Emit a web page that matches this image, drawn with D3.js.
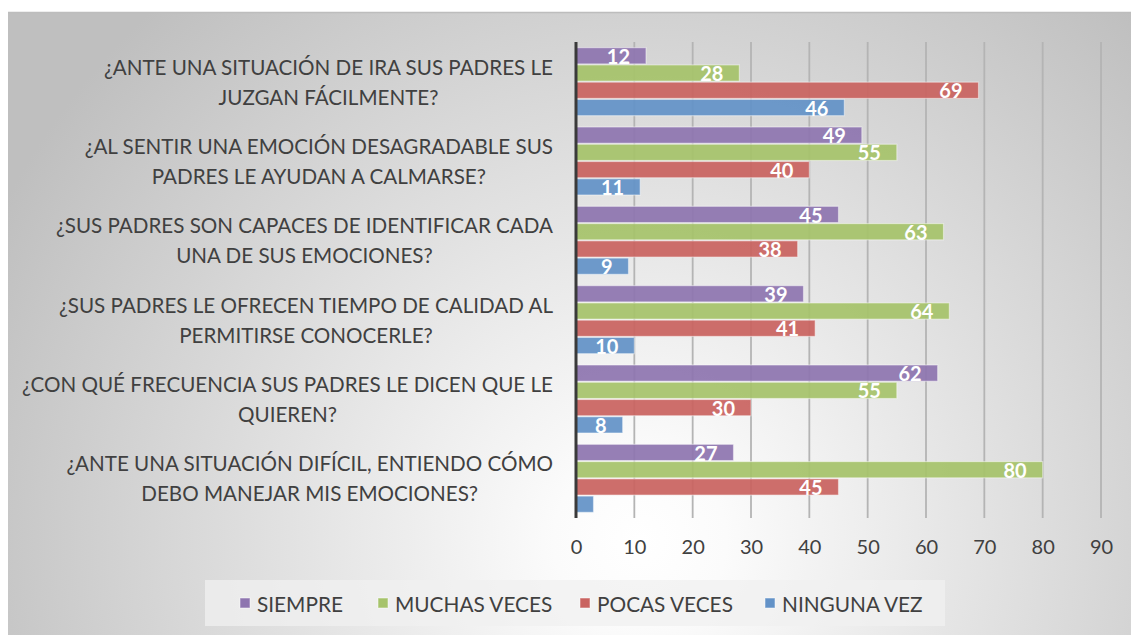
<!DOCTYPE html>
<html><head><meta charset="utf-8">
<script src="https://cdn.jsdelivr.net/npm/d3@7/dist/d3.min.js"></script>
<style>html,body{margin:0;padding:0;background:#fff;}svg{display:block;}</style>
</head><body>
<svg id="chart" width="1131" height="635"></svg>
<script>
const categories = [
  ["¿ANTE UNA SITUACIÓN DE IRA SUS PADRES LE", "JUZGAN FÁCILMENTE?"],
  ["¿AL SENTIR UNA EMOCIÓN DESAGRADABLE SUS", "PADRES LE AYUDAN A CALMARSE?"],
  ["¿SUS PADRES SON CAPACES DE IDENTIFICAR CADA", "UNA DE SUS EMOCIONES?"],
  ["¿SUS PADRES LE OFRECEN TIEMPO DE CALIDAD AL", "PERMITIRSE CONOCERLE?"],
  ["¿CON QUÉ FRECUENCIA SUS PADRES LE DICEN QUE LE", "QUIEREN?"],
  ["¿ANTE UNA SITUACIÓN DIFÍCIL, ENTIENDO CÓMO", "DEBO MANEJAR MIS EMOCIONES?"]
];
const seriesNames = ["SIEMPRE", "MUCHAS VECES", "POCAS VECES", "NINGUNA VEZ"];
const siempre      = [12, 49, 45, 39, 62, 27];
const muchasVeces  = [28, 55, 63, 64, 55, 80];
const pocasVeces   = [69, 40, 38, 41, 30, 45];
const ningunaVez   = [46, 11,  9, 10,  8,  3];
const xTicks = [0, 10, 20, 30, 40, 50, 60, 70, 80, 90];
const colors = ["#8E75AF", "#A6C36B", "#C96360", "#6392C7"];

const seriesValues = [siempre, muchasVeces, pocasVeces, ningunaVez];
const svg = d3.select("#chart");
const defs = svg.append("defs");
const rg = defs.append("radialGradient").attr("id", "bg")
  .attr("gradientUnits", "userSpaceOnUse")
  .attr("cx", 640).attr("cy", 540).attr("r", 720);
rg.append("stop").attr("offset", "0%").attr("stop-color", "#ffffff");
rg.append("stop").attr("offset", "12%").attr("stop-color", "#fbfbfb");
rg.append("stop").attr("offset", "100%").attr("stop-color", "#bfbfbf");

svg.append("rect").attr("x", 8).attr("y", 12).attr("width", 1123).attr("height", 623)
  .attr("fill", "url(#bg)");
svg.append("line").attr("x1", 8).attr("x2", 1131).attr("y1", 12.5).attr("y2", 12.5)
  .attr("stroke", "#bdbdbd").attr("stroke-width", 1.5);

const x = d3.scaleLinear().domain([0, 90]).range([576, 1101]);
const catIdx = d3.range(categories.length);
const y = d3.scaleBand().domain(catIdx).range([42, 518]).paddingInner(0.13).paddingOuter(0.065);
const ySub = d3.scaleBand().domain(d3.range(seriesNames.length)).range([0, y.bandwidth()]).padding(0);

// gridlines
svg.append("g").selectAll("line").data(xTicks.filter(t => t > 0)).join("line")
  .attr("x1", d => x(d)).attr("x2", d => x(d))
  .attr("y1", 42).attr("y2", 518)
  .attr("stroke", "#b4b4b4").attr("stroke-width", 1.8);

// bars
const groups = svg.append("g").selectAll("g").data(catIdx).join("g")
  .attr("transform", d => `translate(0,${y(d)})`);
groups.selectAll("rect").data(ci => seriesValues.map((vals, si) => ({si, v: vals[ci]}))).join("rect")
  .attr("x", x(0)).attr("y", d => ySub(d.si) + 0.5)
  .attr("width", d => x(d.v) - x(0)).attr("height", ySub.bandwidth() - 1)
  .attr("fill", d => colors[d.si]).attr("fill-opacity", 0.93)
  .attr("stroke", "rgba(255,255,255,0.45)").attr("stroke-width", 1.2);
groups.selectAll("text").data(ci => seriesValues.map((vals, si) => ({si, v: vals[ci]})).filter(d => d.v >= 5)).join("text")
  .attr("x", d => x(d.v) - 16).attr("y", d => ySub(d.si) + ySub.bandwidth() - 0.5)
  .attr("text-anchor", "end")
  .attr("font-family", "Lato, 'Open Sans', sans-serif").attr("font-weight", "bold")
  .attr("font-size", 20).attr("fill", "#ffffff")
  .text(d => d.v);

// axis line
svg.append("line").attr("x1", x(0)).attr("x2", x(0)).attr("y1", 42).attr("y2", 518)
  .attr("stroke", "#3a3a3a").attr("stroke-width", 3);

// x tick labels
const xAxis = d3.axisBottom(x).tickValues(xTicks).tickSize(0).tickPadding(0);
const xg = svg.append("g").attr("transform", "translate(0,540)").call(xAxis);
xg.select(".domain").remove();
xg.selectAll("text").attr("font-family", "Lato, 'Open Sans', sans-serif").attr("font-size", 20)
  .attr("fill", "#404040").attr("dy", "0.72em");

// category labels
const labRight = 553;
const catG = svg.append("g").selectAll("g").data(catIdx).join("g");
catG.each(function(ci) {
  const g = d3.select(this);
  const cy = y(ci) + y.bandwidth() / 2;
  const lines = categories[ci];
  const texts = lines.map((ln, i) => g.append("text")
    .attr("y", cy + (i - (lines.length - 1) / 2) * 30)
    .attr("dominant-baseline", "central")
    .attr("text-anchor", "middle")
    .attr("font-family", "Lato, 'Open Sans', sans-serif").attr("font-size", 20.6)
    .attr("fill", "#404040").text(ln));
  const w = d3.max(texts, t => t.node().getComputedTextLength());
  texts.forEach(t => t.attr("x", labRight - w / 2));
});

// legend
const lg = svg.append("g");
lg.append("rect").attr("x", 205).attr("y", 580).attr("width", 740).attr("height", 46)
  .attr("fill", "rgba(240,240,240,0.75)");
const legX = [240, 378, 580, 765];
seriesNames.forEach((name, i) => {
  lg.append("rect").attr("x", legX[i]).attr("y", 598).attr("width", 10).attr("height", 10)
    .attr("fill", colors[i]).attr("stroke", "rgba(255,255,255,0.5)").attr("stroke-width", 1);
  lg.append("text").attr("x", legX[i] + 17).attr("y", 603).attr("dominant-baseline", "central")
    .attr("font-family", "Lato, 'Open Sans', sans-serif").attr("font-size", 20.8)
    .attr("fill", "#404040").text(name);
});
</script>
</body></html>
